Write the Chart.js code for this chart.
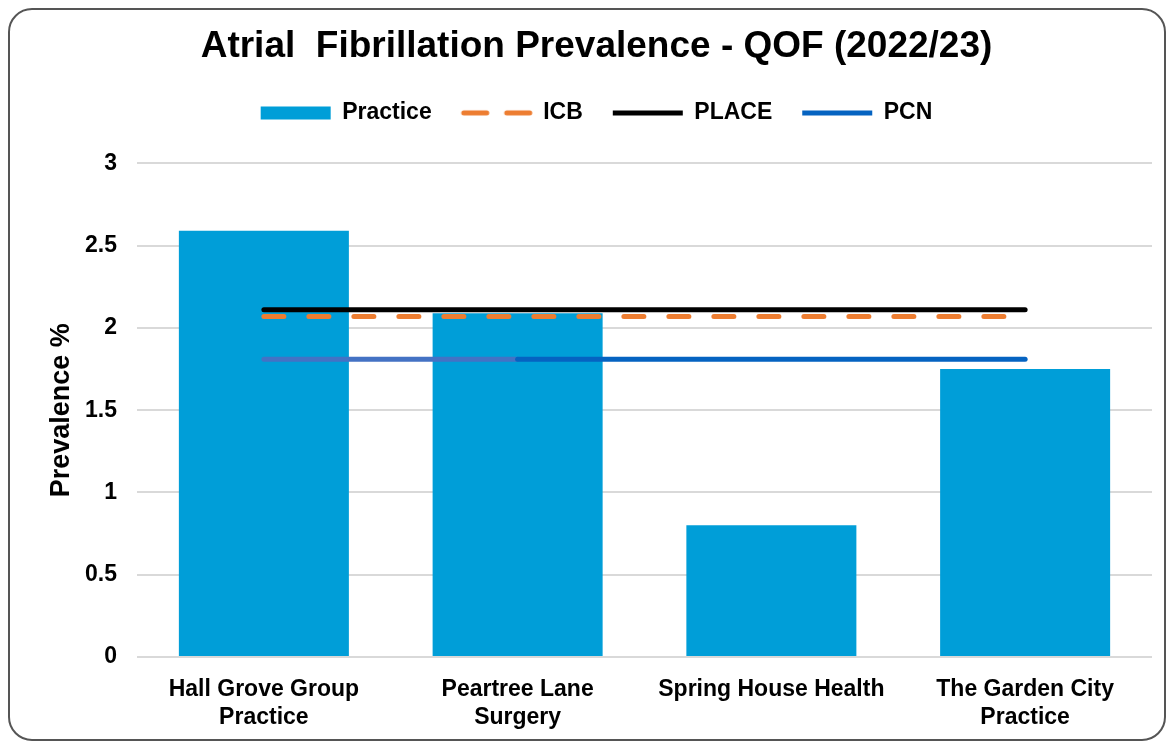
<!DOCTYPE html>
<html>
<head>
<meta charset="utf-8">
<script src="https://cdn.jsdelivr.net/npm/chart.js@4/dist/chart.umd.min.js"></script>
<style>
  html, body { margin: 0; padding: 0; background: #fff; }
  #wrap { position: relative; width: 1168px; height: 742px; }
  #frame {
    position: absolute; left: 8px; top: 8px; width: 1158px; height: 733px;
    box-sizing: border-box; border: 2px solid #555; border-radius: 24px;
    pointer-events: none;
  }
</style>
</head>
<body>
<div id="wrap">
  <canvas id="afChart"></canvas>
  <div id="frame"></div>
</div>
<script>
const practices = [
    ["Hall Grove Group", "Practice"],
    ["Peartree Lane", "Surgery"],
    "Spring House Health",
    ["The Garden City", "Practice"]
];
const practiceValues = [2.59, 2.09, 0.80, 1.75];
const icbValues = [2.07, 2.07, 2.07, 2.07];
const placeValues = [2.11, 2.11, 2.11, 2.11];
const pcnValues = [1.81, 1.81, 1.81, 1.81];

const font = "'Liberation Sans', Arial, sans-serif";

// dashed legend swatch for ICB (legend ignores borderDash with point styles)
function dashSwatch(color) {
    const c = document.createElement("canvas");
    c.width = 74;
    c.height = 10;
    const g = c.getContext("2d");
    g.strokeStyle = color;
    g.lineWidth = 5;
    g.lineCap = "round";
    g.beginPath();
    g.moveTo(4, 5); g.lineTo(27, 5);
    g.moveTo(47, 5); g.lineTo(70, 5);
    g.stroke();
    return c;
}

// push the plot area down below the legend
const legendSpacer = {
    id: "legendSpacer",
    beforeInit(chart) {
        const fit = chart.legend.fit;
        chart.legend.fit = function () {
            fit.call(this);
            this.height += 29;
        };
    }
};

new Chart(document.getElementById("afChart"), {
    type: "bar",
    data: {
        labels: practices,
        datasets: [{
            label: "Practice",
            data: practiceValues,
            backgroundColor: "#009ED8",
            barPercentage: 0.67,
            categoryPercentage: 1,
            pointStyle: "rect",
            order: 3
        }, {
            type: "line",
            label: "ICB",
            data: icbValues,
            borderColor: "#ED7D31",
            borderWidth: 5,
            borderDash: [20, 25],
            borderCapStyle: "round",
            pointRadius: 0,
            pointStyle: dashSwatch("#ED7D31"),
            order: 2
        }, {
            type: "line",
            label: "PLACE",
            data: placeValues,
            borderColor: "#000000",
            borderWidth: 5,
            borderCapStyle: "round",
            pointRadius: 0,
            pointStyle: "line",
            order: 1
        }, {
            type: "line",
            label: "PCN",
            data: pcnValues,
            borderColor: "#0563C1",
            borderWidth: 5,
            borderCapStyle: "round",
            pointRadius: 0,
            pointStyle: "line",
            segment: {
                borderColor: ctx => ctx.p0DataIndex === 0 ? "#4472C4" : "#0563C1"
            },
            order: 0
        }]
    },
    plugins: [legendSpacer],
    options: {
        responsive: true,
        maintainAspectRatio: false,
        animation: false,
        layout: {
            padding: { left: 41, right: 16, top: 11, bottom: 0 }
        },
        plugins: {
            title: {
                display: true,
                text: "Atrial  Fibrillation Prevalence - QOF (2022/23)",
                color: "#000",
                font: { family: font, size: 37, weight: "bold" },
                padding: { top: 14, bottom: 2 }
            },
            legend: {
                labels: {
                    usePointStyle: true,
                    pointStyleWidth: 70,
                    boxHeight: 13,
                    padding: 30,
                    color: "#000",
                    font: { family: font, size: 23, weight: "bold" },
                    sort: (a, b) => a.datasetIndex - b.datasetIndex
                }
            },
            tooltip: { enabled: false }
        },
        scales: {
            x: {
                afterFit(scale) { scale.height = 85; },
                grid: { display: false },
                border: { display: false },
                ticks: {
                    color: "#000",
                    padding: 11,
                    maxRotation: 0,
                    font: { family: font, size: 23, weight: "bold" }
                }
            },
            y: {
                min: 0,
                max: 3,
                afterFit(scale) { scale.width = 96; },
                ticks: {
                    stepSize: 0.5,
                    color: "#000",
                    padding: 20,
                    font: { family: font, size: 23, weight: "bold" },
                    callback: value => String(value)
                },
                grid: { color: "#d9d9d9", lineWidth: 2, drawTicks: false },
                border: { display: false },
                title: {
                    display: true,
                    text: "Prevalence %",
                    color: "#000",
                    font: { family: font, size: 27, weight: "bold" },
                    padding: { top: 4, bottom: 4 }
                }
            }
        }
    }
});
</script>
</body>
</html>
